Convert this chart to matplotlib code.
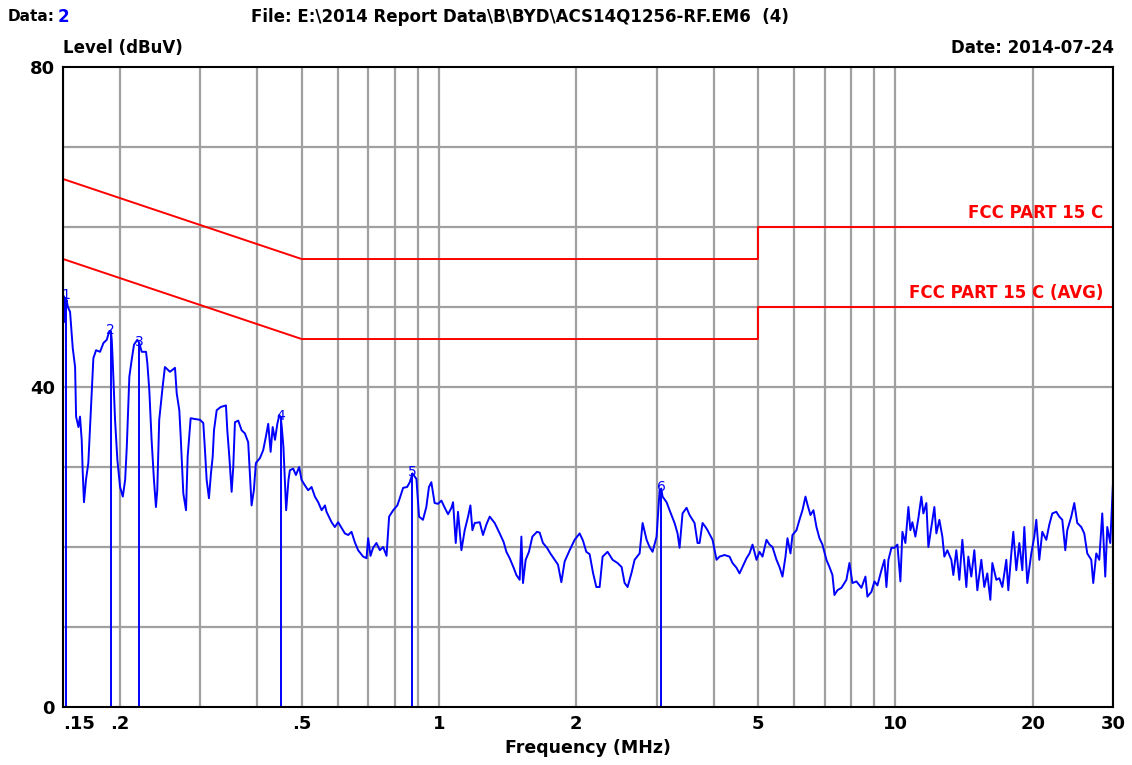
import matplotlib.pyplot as plt
from matplotlib.ticker import FixedLocator, NullLocator

plt.rcParams['font.family'] = ['DejaVu Sans']

# measured conducted emission trace (MHz, dBuV)
freq = [
    0.1508, 0.1515, 0.1526, 0.1537, 0.1554, 0.1575, 0.1594, 0.1602, 0.1621, 0.1634,
    0.1648, 0.1656, 0.1667, 0.1684, 0.1704, 0.1725, 0.1748, 0.1772, 0.1808, 0.1839,
    0.1870, 0.1895, 0.1909, 0.1918, 0.1928, 0.1950, 0.1973, 0.2000, 0.2028, 0.2052,
    0.2069, 0.2096, 0.2121, 0.2146, 0.2182, 0.2204, 0.2231, 0.2280, 0.2295, 0.2318,
    0.2345, 0.2373, 0.2397, 0.2413, 0.2437, 0.2479, 0.2508, 0.2573, 0.2639, 0.2662,
    0.2697, 0.2716, 0.2752, 0.2790, 0.2813, 0.2856, 0.2919, 0.2993, 0.3044, 0.3070,
    0.3096, 0.3132, 0.3164, 0.3192, 0.3213, 0.3257, 0.3323, 0.3413, 0.3436, 0.3471,
    0.3512, 0.3541, 0.3571, 0.3631, 0.3693, 0.3755, 0.3818, 0.3851, 0.3884, 0.3929,
    0.3969, 0.4050, 0.4118, 0.4175, 0.4224, 0.4276, 0.4320, 0.4371, 0.4423, 0.4468,
    0.4500, 0.4523, 0.4561, 0.4624, 0.4679, 0.4712, 0.4792, 0.4858, 0.4938, 0.4998,
    0.5083, 0.5168, 0.5257, 0.5346, 0.5436, 0.5531, 0.5625, 0.5670, 0.5815, 0.5912,
    0.6012, 0.6115, 0.6219, 0.6324, 0.6431, 0.6539, 0.6649, 0.6819, 0.6937, 0.6994,
    0.7078, 0.7170, 0.7293, 0.7418, 0.7544, 0.7674, 0.7775, 0.7938, 0.8104, 0.8205,
    0.8344, 0.8514, 0.8629, 0.8747, 0.8924, 0.9043, 0.9223, 0.9381, 0.9506, 0.9621,
    0.9782, 0.9949, 1.0124, 1.0295, 1.0469, 1.0648, 1.0736, 1.0882, 1.1008, 1.1198,
    1.1386, 1.1580, 1.1718, 1.1836, 1.1974, 1.2281, 1.2487, 1.2700, 1.2916, 1.3246,
    1.3584, 1.3862, 1.4050, 1.4287, 1.4577, 1.4777, 1.5026, 1.5155, 1.5278, 1.5488,
    1.5747, 1.6020, 1.6395, 1.6620, 1.6900, 1.7248, 1.7540, 1.7926, 1.8230, 1.8541,
    1.8856, 1.9335, 1.9827, 2.0335, 2.0680, 2.1030, 2.1387, 2.1750, 2.2120, 2.2493,
    2.2834, 2.3416, 2.4013, 2.4624, 2.5131, 2.5515, 2.5904, 2.6430, 2.6834, 2.7520,
    2.7940, 2.8510, 2.8943, 2.9383, 2.9984, 3.0440, 3.0700, 3.0903, 3.1534, 3.2014,
    3.2831, 3.3330, 3.3670, 3.4181, 3.4879, 3.5411, 3.6315, 3.6867, 3.7243, 3.7809,
    3.8384, 3.8773, 3.9763, 4.0575, 4.1195, 4.2246, 4.3326, 4.3985, 4.4883, 4.5567,
    4.6260, 4.7204, 4.7923, 4.8652, 4.9645, 5.0402, 5.1169, 5.2213, 5.3009, 5.3816,
    5.4914, 5.5750, 5.6599, 5.7460, 5.8041, 5.8928, 5.9524, 6.0738, 6.1666, 6.2605,
    6.3558, 6.4201, 6.5180, 6.6173, 6.7180, 6.8210, 6.9243, 7.0651, 7.1738, 7.2830,
    7.3565, 7.4686, 7.6208, 7.8152, 7.9350, 8.0558, 8.2200, 8.4299, 8.6016, 8.6890,
    8.8657, 9.0015, 9.1386, 9.3249, 9.4669, 9.5631, 9.6603, 9.8075, 9.9570, 10.109,
    10.262, 10.366, 10.524, 10.684, 10.792, 10.902, 11.068, 11.236, 11.407, 11.523,
    11.698, 11.818, 11.998, 12.180, 12.304, 12.492, 12.682, 12.810, 13.005, 13.270,
    13.404, 13.608, 13.818, 14.027, 14.313, 14.458, 14.678, 14.902, 15.129, 15.437,
    15.672, 15.910, 16.156, 16.320, 16.652, 16.906, 17.163, 17.511, 17.690, 17.960,
    18.141, 18.418, 18.700, 18.985, 19.177, 19.469, 19.866, 20.168, 20.373, 20.685,
    20.999, 21.428, 21.755, 22.087, 22.536, 22.880, 23.228, 23.583, 23.821, 24.306,
    24.677, 25.052, 25.563, 25.952, 26.348, 26.886, 27.157, 27.572, 27.994, 28.420,
    28.854, 29.146, 29.591, 30.0,
]
level = [
    51.3, 48.1, 50.9, 50.0, 49.4, 44.9, 42.5, 36.3, 35.0, 36.3,
    33.4, 29.6, 25.6, 28.4, 30.5, 36.7, 43.6, 44.6, 44.4, 45.5,
    45.9, 47.0, 47.0, 45.9, 43.0, 35.9, 30.9, 27.5, 26.3, 28.4,
    32.5, 41.3, 43.4, 45.3, 45.9, 45.5, 44.4, 44.4, 43.0, 39.6,
    33.4, 28.4, 25.0, 27.1, 35.9, 40.0, 42.5, 41.9, 42.4, 39.2,
    37.1, 33.8, 26.7, 24.6, 31.3, 36.1, 36.0, 35.9, 35.5, 32.1,
    28.4, 26.1, 29.2, 31.3, 34.6, 37.1, 37.5, 37.7, 34.6, 31.3,
    26.9, 30.0, 35.6, 35.8, 34.6, 34.2, 33.1, 29.2, 25.2, 27.1,
    30.5, 31.1, 32.1, 33.8, 35.4, 31.9, 35.0, 33.4, 35.4, 36.5,
    36.2, 35.0, 32.5, 24.6, 28.4, 29.6, 29.8, 29.0, 30.0, 28.4,
    27.7, 27.1, 27.5, 26.3, 25.6, 24.6, 25.2, 24.4, 23.1, 22.5,
    23.1, 22.4, 21.7, 21.5, 21.9, 20.6, 19.6, 18.8, 18.6, 21.1,
    18.9, 19.9, 20.5, 19.6, 20.0, 18.9, 23.8, 24.6, 25.2, 26.1,
    27.4, 27.5, 28.1, 29.2, 28.5, 23.8, 23.4, 25.0, 27.5, 28.1,
    25.5, 25.4, 25.8, 24.9, 24.1, 24.9, 25.6, 20.5, 24.4, 19.6,
    22.1, 23.8, 25.2, 22.1, 23.0, 23.1, 21.5, 22.8, 23.8, 23.0,
    21.7, 20.6, 19.4, 18.6, 17.4, 16.5, 15.9, 21.3, 15.5, 18.4,
    19.4, 21.3, 21.9, 21.8, 20.5, 19.9, 19.2, 18.4, 17.8, 15.6,
    18.2, 19.6, 20.9, 21.7, 20.8, 19.4, 19.1, 16.8, 15.0, 15.0,
    18.8, 19.4, 18.4, 18.0, 17.5, 15.5, 15.0, 16.8, 18.4, 19.2,
    23.0, 20.9, 20.0, 19.4, 21.3, 27.1, 27.3, 26.3, 25.6, 24.6,
    23.0, 21.7, 19.9, 24.2, 24.9, 24.0, 23.0, 20.5, 20.5, 23.0,
    22.5, 22.1, 20.9, 18.4, 18.8, 19.0, 18.8, 18.0, 17.4, 16.7,
    17.5, 18.6, 19.2, 20.3, 18.4, 19.4, 18.8, 20.9, 20.3, 20.0,
    18.4, 17.5, 16.3, 18.8, 21.1, 19.2, 21.5, 22.1, 23.4, 24.6,
    26.3, 25.3, 24.0, 24.6, 22.5, 21.1, 20.3, 18.4, 17.5, 16.5,
    14.0, 14.6, 14.9, 15.9, 18.0, 15.5, 15.7, 14.9, 16.3, 13.8,
    14.4, 15.7, 15.2, 17.1, 18.4, 15.0, 18.4, 19.9, 19.9, 20.3,
    15.7, 21.9, 20.5, 25.0, 22.1, 23.1, 21.3, 23.6, 26.3, 24.2,
    25.5, 20.0, 22.5, 25.0, 21.7, 23.4, 21.3, 18.8, 19.6, 18.4,
    16.5, 19.6, 15.9, 20.9, 15.0, 18.8, 16.3, 19.6, 14.6, 18.4,
    15.0, 16.7, 13.4, 18.0, 15.9, 16.1, 15.0, 18.4, 14.6, 19.2,
    21.9, 17.1, 20.5, 17.1, 22.5, 15.5, 19.2, 21.3, 23.4, 18.4,
    21.9, 20.9, 22.8, 24.2, 24.4, 23.8, 23.4, 19.6, 22.1, 23.8,
    25.5, 23.0, 22.5, 21.7, 19.2, 18.4, 15.5, 19.2, 18.4, 24.2,
    16.3, 22.5, 20.5, 28.0,
]

# peak markers
marker_freq = [0.1523, 0.1909, 0.2204, 0.4500, 0.8747, 3.070]
marker_level = [51.3, 47.0, 45.5, 36.2, 29.2, 27.3]
marker_id = ['1', '2', '3', '4', '5', '6']

# FCC Part 15 C limits
qp_freq = [0.15, 0.5, 5, 5, 30]
qp_limit = [66, 56, 56, 60, 60]
avg_freq = [0.15, 0.5, 5, 5, 30]
avg_limit = [56, 46, 46, 50, 50]

x_grid = [0.15, 0.2, 0.3, 0.4, 0.5, 0.6, 0.7, 0.8, 0.9, 1, 2, 3, 4, 5, 6, 7, 8, 9, 10, 20, 30]
x_ticks = [0.15, 0.2, 0.5, 1, 2, 5, 10, 20, 30]
x_labels = ['.15', '.2', '.5', '1', '2', '5', '10', '20', '30']

fig = plt.figure(figsize=(11.32, 7.65), dpi=100)
ax = fig.add_axes([0.0557, 0.0758, 0.9275, 0.8366])

ax.set_xscale('log')
ax.set_xlim(0.15, 30)
ax.set_ylim(0, 80)

for f in x_grid:
    ax.axvline(f, color='#a0a0a0', lw=1.6, zorder=1)
for v in range(10, 80, 10):
    ax.axhline(v, color='#a0a0a0', lw=1.6, zorder=1)

ax.plot(qp_freq, qp_limit, color='#ff0000', lw=1.4, zorder=2)
ax.plot(avg_freq, avg_limit, color='#ff0000', lw=1.4, zorder=2)

ax.plot(freq, level, color='#0000ff', lw=1.4, zorder=3)
ax.vlines(marker_freq, 0, marker_level, color='#0000ff', lw=1.4, zorder=3)
for f, v, t in zip(marker_freq, marker_level, marker_id):
    ax.annotate(t, (f, v), xytext=(0, -4), textcoords='offset points',
                ha='center', va='bottom', color='#0000ff', fontsize=10, zorder=4)

ax.text(28.6, 60.6, 'FCC PART 15 C', color='#ff0000', fontsize=12,
        fontweight='bold', ha='right', va='bottom')
ax.text(28.6, 50.6, 'FCC PART 15 C (AVG)', color='#ff0000', fontsize=12,
        fontweight='bold', ha='right', va='bottom')

ax.xaxis.set_major_locator(FixedLocator(x_ticks))
ax.xaxis.set_minor_locator(NullLocator())
ax.set_xticklabels(x_labels)
ax.set_yticks([0, 40, 80])
ax.tick_params(length=0, labelsize=13, pad=6)
for lbl in ax.get_xticklabels() + ax.get_yticklabels():
    lbl.set_fontweight('bold')
ax.get_xticklabels()[0].set_horizontalalignment('left')
for sp in ax.spines.values():
    sp.set_linewidth(1.5)
    sp.set_zorder(5)

ax.set_xlabel('Frequency (MHz)', fontsize=12.5, fontweight='bold', labelpad=4)

fig.text(0.007, 0.978, 'Data:', fontsize=11, fontweight='bold', va='center')
fig.text(0.051, 0.978, '2', fontsize=12, fontweight='bold', color='#0000ff', va='center')
fig.text(0.222, 0.978, 'File: E:\\2014 Report Data\\B\\BYD\\ACS14Q1256-RF.EM6  (4)',
         fontsize=12, fontweight='bold', va='center')
fig.text(0.0557, 0.937, 'Level (dBuV)', fontsize=12, fontweight='bold', va='center')
fig.text(0.984, 0.937, 'Date: 2014-07-24', fontsize=12, fontweight='bold',
         va='center', ha='right')

fig.savefig('out.png', dpi=100)
